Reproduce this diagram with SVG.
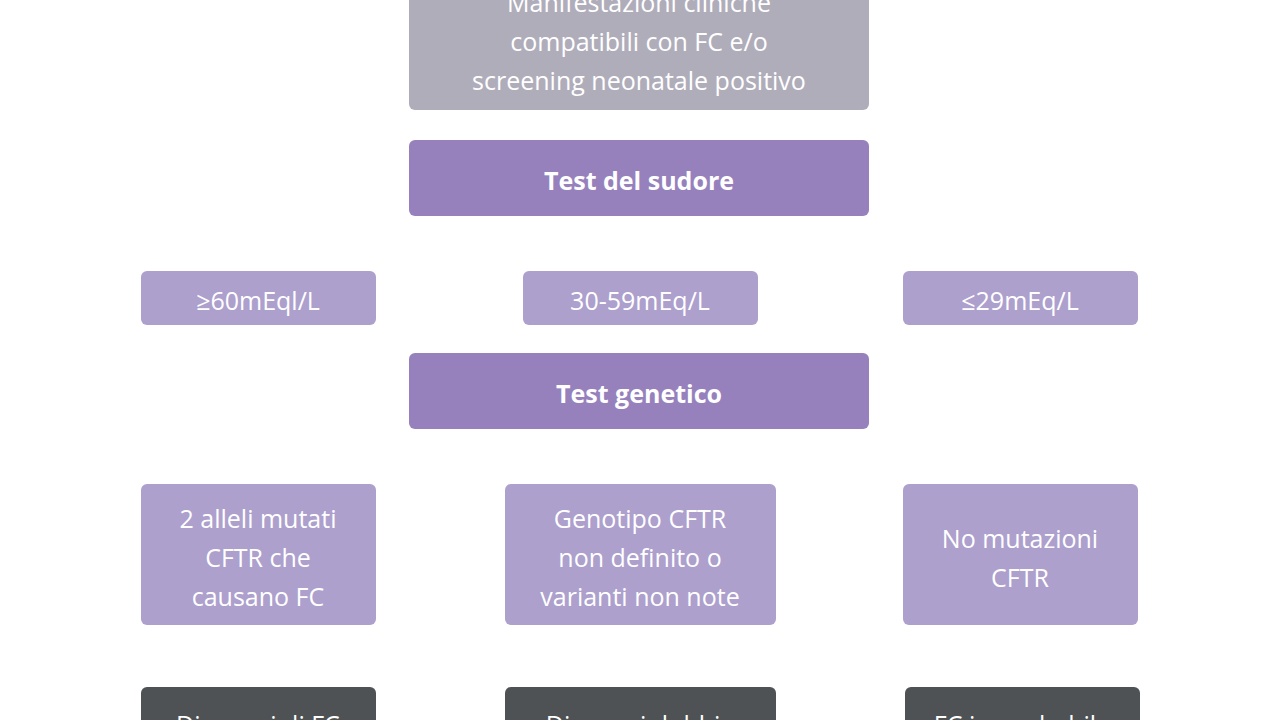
<svg xmlns="http://www.w3.org/2000/svg" width="1280" height="720" viewBox="0 0 1280 720">
<style>
text{font-family:"Open Sans","Noto Sans",sans-serif;fill:#fff;text-anchor:middle;font-size:25px}
.b{font-weight:bold}
.g{fill:#b0adbb}.d{fill:#9681bd}.l{fill:#ada0cd}.k{fill:#4e5254}
</style>
<rect width="1280" height="720" fill="#fff"/>
<g id="n0"><rect class="g" x="409" y="-20" width="460" height="130" rx="6"/><text x="639" y="12">Manifestazioni cliniche</text><text x="639" y="51">compatibili con FC e/o</text><text x="639" y="90">screening neonatale positivo</text></g>
<g id="n1"><rect class="d" x="409" y="140" width="460" height="76" rx="6"/><text class="b" x="639" y="190">Test del sudore</text></g>
<g id="n2"><rect class="l" x="141" y="271" width="235" height="54" rx="6"/><text x="258" y="310">≥60mEql/L</text></g>
<g id="n3"><rect class="l" x="523" y="271" width="235" height="54" rx="6"/><text x="640" y="310">30-59mEq/L</text></g>
<g id="n4"><rect class="l" x="903" y="271" width="235" height="54" rx="6"/><text x="1020" y="310">≤29mEq/L</text></g>
<g id="n5"><rect class="d" x="409" y="353" width="460" height="76" rx="6"/><text class="b" x="639" y="403">Test genetico</text></g>
<g id="n6"><rect class="l" x="141" y="484" width="235" height="141" rx="6"/><text x="258" y="528">2 alleli mutati</text><text x="258" y="567">CFTR che</text><text x="258" y="606">causano FC</text></g>
<g id="n7"><rect class="l" x="505" y="484" width="271" height="141" rx="6"/><text x="640" y="528">Genotipo CFTR</text><text x="640" y="567">non definito o</text><text x="640" y="606">varianti non note</text></g>
<g id="n8"><rect class="l" x="903" y="484" width="235" height="141" rx="6"/><text x="1020" y="548">No mutazioni</text><text x="1020" y="587">CFTR</text></g>
<g id="n9"><rect class="k" x="141" y="687" width="235" height="80" rx="6"/><text x="258" y="734">Diagnosi di FC</text></g>
<g id="n10"><rect class="k" x="505" y="687" width="271" height="80" rx="6"/><text x="640" y="734">Diagnosi dubbia</text></g>
<g id="n11"><rect class="k" x="905" y="687" width="235" height="80" rx="6"/><text x="1022" y="734">FC improbabile</text></g>
<g id="connectors"></g>
</svg>
